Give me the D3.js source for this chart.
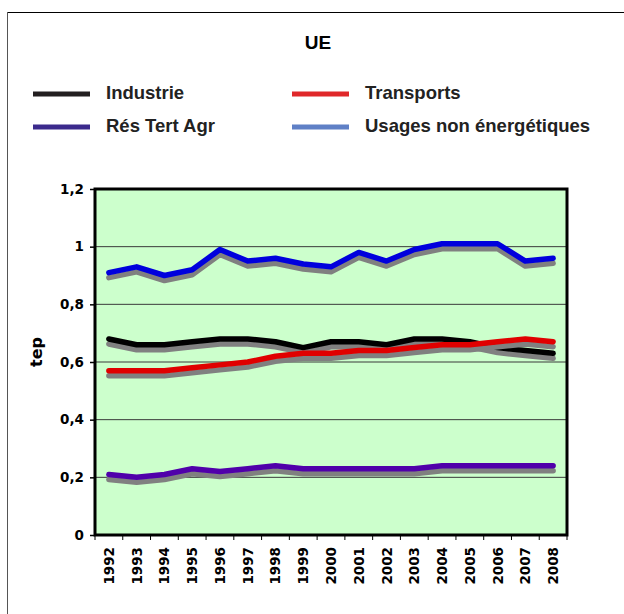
<!DOCTYPE html>
<html>
<head>
<meta charset="utf-8">
<script src="https://cdn.jsdelivr.net/npm/d3@7"></script>
<style>
  body { margin: 0; background: #fff; }
  svg { display: block; }
</style>
</head>
<body>
<div id="chart"></div>
<script>
var years = ["1992", "1993", "1994", "1995", "1996", "1997", "1998", "1999", "2000",
             "2001", "2002", "2003", "2004", "2005", "2006", "2007", "2008"];
var industrie = [0.68, 0.66, 0.66, 0.67, 0.68, 0.68, 0.67, 0.65, 0.67, 0.67, 0.66, 0.68, 0.68, 0.67, 0.65, 0.64, 0.63];
var transports = [0.57, 0.57, 0.57, 0.58, 0.59, 0.60, 0.62, 0.63, 0.63, 0.64, 0.64, 0.65, 0.66, 0.66, 0.67, 0.68, 0.67];
var resTertAgr = [0.21, 0.20, 0.21, 0.23, 0.22, 0.23, 0.24, 0.23, 0.23, 0.23, 0.23, 0.23, 0.24, 0.24, 0.24, 0.24, 0.24];
var usagesNonEnerg = [0.91, 0.93, 0.90, 0.92, 0.99, 0.95, 0.96, 0.94, 0.93, 0.98, 0.95, 0.99, 1.01, 1.01, 1.01, 0.95, 0.96];
var yTicks = [0, 0.2, 0.4, 0.6, 0.8, 1, 1.2];
var seriesNames = ["Industrie", "Transports", "Rés Tert Agr", "Usages non énergétiques"];

var width = 624,
    height = 614,
    margin = {left: 95, right: 57, top: 189, bottom: 79},
    plot_w = width - margin.left - margin.right,
    plot_h = height - margin.top - margin.bottom;

var series = [
    {name: seriesNames[0], values: industrie, color: "#000000", legend: "#231f20"},
    {name: seriesNames[1], values: transports, color: "#e00000", legend: "#e0282a"},
    {name: seriesNames[2], values: resTertAgr, color: "#5000aa", legend: "#3b2a8c"},
    {name: seriesNames[3], values: usagesNonEnerg, color: "#0000dd", legend: "#5f80c6"}
];

var svg = d3.select("#chart").append("svg")
    .attr("width", width)
    .attr("height", height);

// outer frame (only top and left edges visible)
svg.append("line").attr("x1", 7).attr("y1", 12.5).attr("x2", width).attr("y2", 12.5)
    .attr("stroke", "#000").attr("stroke-width", 1);
svg.append("line").attr("x1", 7.5).attr("y1", 12).attr("x2", 7.5).attr("y2", height)
    .attr("stroke", "#555").attr("stroke-width", 1);

svg.append("text")
    .attr("x", 318).attr("y", 48.5)
    .attr("text-anchor", "middle")
    .style("font-family", "Liberation Sans, Arial, sans-serif")
    .style("font-weight", "bold")
    .style("font-size", "19px")
    .text("UE");

// legend
var legend_pos = [[33, 94], [292, 94], [33, 127], [292, 127]];
series.forEach(function(s, i) {
    var p = legend_pos[i];
    svg.append("line")
        .attr("x1", p[0]).attr("x2", p[0] + 57)
        .attr("y1", p[1]).attr("y2", p[1])
        .attr("stroke", s.legend).attr("stroke-width", 5);
    svg.append("text")
        .attr("x", p[0] + 73).attr("y", p[1] + 5)
        .style("font-family", "Liberation Sans, Arial, sans-serif")
        .style("font-weight", "bold")
        .style("font-size", "18.5px")
        .style("fill", "#222")
        .text(s.name);
});

var g = svg.append("g").attr("transform", "translate(" + margin.left + "," + margin.top + ")");

var x = d3.scaleBand().domain(years).range([0, plot_w]);
var y = d3.scaleLinear().domain([0, 1.2]).range([plot_h, 0]);

g.append("rect")
    .attr("width", plot_w).attr("height", plot_h)
    .attr("fill", "#ccffcc");

g.append("g")
    .selectAll("line")
    .data(yTicks.filter(function(d) { return d > 0 && d < 1.2; }))
    .enter().append("line")
    .attr("x1", 0).attr("x2", plot_w)
    .attr("y1", function(d) { return y(d); })
    .attr("y2", function(d) { return y(d); })
    .attr("stroke", "#3a3a3a").attr("stroke-width", 1);

var line = d3.line()
    .x(function(d, i) { return x(years[i]) + x.bandwidth() / 2; })
    .y(function(d) { return y(d); });

series.forEach(function(s) {
    g.append("path")
        .datum(s.values)
        .attr("d", line)
        .attr("transform", "translate(0,5)")
        .attr("fill", "none")
        .attr("stroke", "#808080")
        .attr("stroke-width", 5.5)
        .attr("stroke-linejoin", "round")
        .attr("stroke-linecap", "round");
    g.append("path")
        .datum(s.values)
        .attr("d", line)
        .attr("fill", "none")
        .attr("stroke", s.color)
        .attr("stroke-width", 5.5)
        .attr("stroke-linejoin", "round")
        .attr("stroke-linecap", "round");
});

g.append("rect")
    .attr("width", plot_w).attr("height", plot_h)
    .attr("fill", "none")
    .attr("stroke", "#000").attr("stroke-width", 3);

// y axis
var yAxis = g.append("g")
    .call(d3.axisLeft(y).tickValues(yTicks).tickSize(5).tickPadding(6)
        .tickFormat(function(d) { return String(d).replace(".", ","); }));
yAxis.select(".domain").remove();
yAxis.selectAll("line").attr("stroke", "#000").attr("stroke-width", 1.5);
yAxis.selectAll("text")
    .style("font-family", "DejaVu Sans, Verdana, sans-serif")
    .style("font-weight", "bold")
    .style("font-size", "13.5px")
    .attr("fill", "#000");

// x axis: ticks on category boundaries
var xg = g.append("g").attr("transform", "translate(0," + plot_h + ")");
xg.selectAll("line")
    .data(d3.range(years.length + 1))
    .enter().append("line")
    .attr("x1", function(i) { return i * x.bandwidth(); })
    .attr("x2", function(i) { return i * x.bandwidth(); })
    .attr("y1", 0).attr("y2", 5)
    .attr("stroke", "#000").attr("stroke-width", 1);
xg.selectAll("text")
    .data(years)
    .enter().append("text")
    .attr("transform", function(d) {
        return "translate(" + (x(d) + x.bandwidth() / 2 + 5) + ",12) rotate(-90)";
    })
    .attr("text-anchor", "end")
    .style("font-family", "DejaVu Sans, Verdana, sans-serif")
    .style("font-weight", "bold")
    .style("font-size", "13.5px")
    .text(function(d) { return d; });

svg.append("text")
    .attr("transform", "translate(42,352) rotate(-90)")
    .attr("text-anchor", "middle")
    .style("font-family", "DejaVu Sans, Verdana, sans-serif")
    .style("font-weight", "bold")
    .style("font-size", "16px")
    .text("tep");
</script>
</body>
</html>
